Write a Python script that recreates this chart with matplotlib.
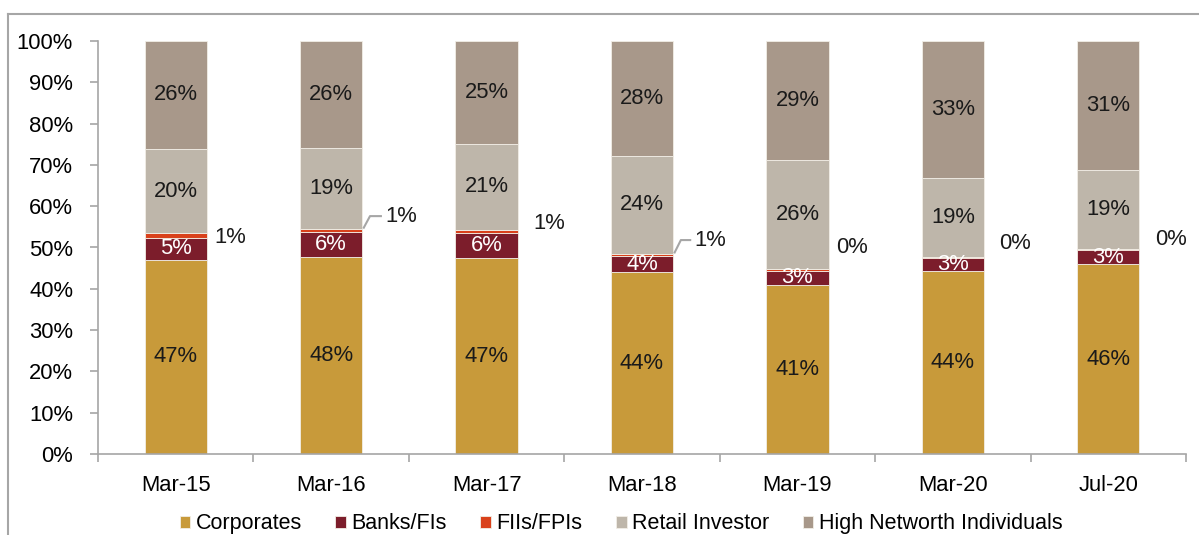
import numpy as np
import matplotlib
matplotlib.use("Agg")
import matplotlib.pyplot as plt
from matplotlib.lines import Line2D

plt.rcParams['font.family'] = ['Liberation Sans', 'DejaVu Sans']

# data (share of holdings, %)
periods = ['Mar-15', 'Mar-16', 'Mar-17', 'Mar-18', 'Mar-19', 'Mar-20', 'Jul-20']
corporates = [47.0, 47.6, 47.4, 44.0, 41.0, 44.3, 46.0]
banks = [5.4, 6.2, 6.0, 3.9, 3.4, 3.2, 3.3]
fiis = [1.0, 0.8, 0.8, 0.6, 0.4, 0.3, 0.3]
retail = [20.5, 19.4, 20.9, 23.6, 26.4, 19.0, 19.2]
hni = [26.1, 26.0, 24.9, 27.9, 28.8, 33.2, 31.2]

series_names = ['Corporates', 'Banks/FIs', 'FIIs/FPIs', 'Retail Investor',
                'High Networth Individuals']
colors = ['#C89A3A', '#7C1D2B', '#D9411B', '#BEB6AA', '#A8988A']
label_colors = ['#1a1a1a', 'white', None, '#1a1a1a', '#1a1a1a']

# where the outside FII labels sit (x gap past bar edge, y lift in % pts)
fii_dx = [0.05, 0.15, 0.10, 0.14, 0.05, 0.10, 0.10]
fii_dy = [-0.5, 3.4, 1.9, 3.6, 5.5, 3.4, 2.4]
fii_leader = [False, True, False, True, False, False, False]

fig = plt.figure(figsize=(11.99, 5.35), dpi=100)
ax = fig.add_axes([98 / 1199, 81 / 535, (1186 - 98) / 1199, 413 / 535])

FS = 15.8
x = np.arange(len(periods))
width = 0.4
bottom = np.zeros(len(periods))
all_series = [corporates, banks, fiis, retail, hni]
for vals, name, col, lc in zip(all_series, series_names, colors, label_colors):
    vals = np.array(vals)
    ax.bar(x, vals, width, bottom=bottom, color=col, edgecolor='#F2EEE6',
           linewidth=0.6, label=name)
    if lc is not None:
        for xi, b, v in zip(x, bottom, vals):
            ax.text(xi, b + v / 2, f'{v:.0f}%', ha='center', va='center',
                    fontsize=FS, color=lc)
    else:
        # small FII slice labelled outside the bar
        for xi, b, v in zip(x, bottom, vals):
            yc = b + v / 2
            edge = xi + width / 2
            ty = yc + fii_dy[xi]
            tx = edge + fii_dx[xi]
            if fii_leader[xi]:
                ax.plot([edge + 0.01, edge + 0.05, tx - 0.03],
                        [yc + 0.6, ty, ty], color='#A6A6A6', lw=1.5,
                        clip_on=False)
            ax.text(tx, ty, f'{v:.0f}%', ha='left', va='center',
                    fontsize=FS, color='#1a1a1a')
    bottom += vals

ax.set_xlim(-0.5, len(periods) - 0.5)
ax.set_ylim(0, 100)
ax.set_yticks(np.arange(0, 101, 10))
ax.set_yticklabels([f'{t}%' for t in range(0, 101, 10)])
ax.set_xticks(x)
ax.set_xticklabels(periods)
ax.set_xticks(np.arange(-0.5, len(periods), 1), minor=True)
ax.tick_params(axis='x', which='major', length=0, pad=15, labelsize=FS)
ax.tick_params(axis='x', which='minor', length=6, color='#A6A6A6', width=1.2)
ax.tick_params(axis='y', length=6, color='#A6A6A6', width=1.2, pad=12,
               labelsize=FS)
for s in ['top', 'right']:
    ax.spines[s].set_visible(False)
for s in ['left', 'bottom']:
    ax.spines[s].set_color('#A6A6A6')
    ax.spines[s].set_linewidth(1.2)

fig.legend(loc='lower center', bbox_to_anchor=(0.518, -0.035), ncol=5,
           frameon=False, fontsize=15.5, handlelength=0.5, handleheight=0.5,
           handletextpad=0.25, columnspacing=1.55)

# outer frame of the chart
fig.add_artist(Line2D([8 / 1199, 8 / 1199], [0, 1 - 14 / 535], color='#A6A6A6',
                      lw=1.5, transform=fig.transFigure))
fig.add_artist(Line2D([8 / 1199, 1], [1 - 14 / 535, 1 - 14 / 535], color='#A6A6A6',
                      lw=1.5, transform=fig.transFigure))

fig.savefig('out.png', dpi=100)
